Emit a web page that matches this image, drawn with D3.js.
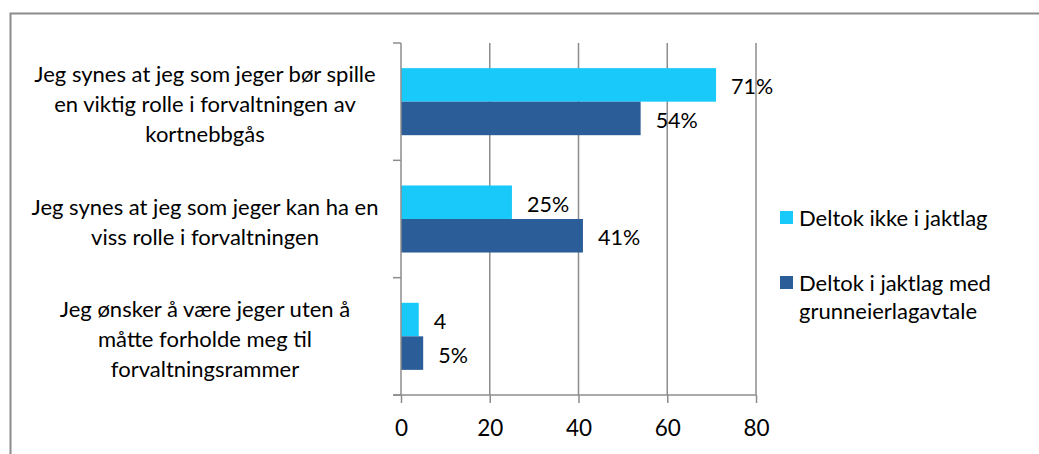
<!DOCTYPE html>
<html>
<head>
<meta charset="utf-8">
<script src="https://cdn.jsdelivr.net/npm/d3@7"></script>
<style>
  body { margin: 0; background: #fff; }
  svg text { font-family: Lato, "Open Sans", sans-serif; fill: #000; }
</style>
</head>
<body>
<svg id="chart"></svg>
<script>
// categories, top to bottom, each split into lines
const categories = [
    ["Jeg synes at jeg som jeger bør spille", "en viktig rolle i forvaltningen av", "kortnebbgås"],
    ["Jeg synes at jeg som jeger kan ha en", "viss rolle i forvaltningen"],
    ["Jeg ønsker å være jeger uten å", "måtte forholde meg til", "forvaltningsrammer"]
];
const seriesNames = ["Deltok ikke i jaktlag", "Deltok i jaktlag med grunneierlagavtale"];
const ikkeJaktlag = [71, 25, 4];
const medAvtale = [54, 41, 5];
const ikkeLabels = ["71%", "25%", "4"];
const medLabels = ["54%", "41%", "5%"];
const xTicks = [0, 20, 40, 60, 80];

const width = 1039, height = 454;
const margin = {top: 43, right: 283, bottom: 59, left: 401};
const innerW = width - margin.left - margin.right;
const innerH = height - margin.top - margin.bottom;

const svg = d3.select('#chart')
    .attr('width', width)
    .attr('height', height);

// outer frame (top and left edges only are visible)
svg.append('path')
    .attr('d', `M10.5,${height}V13.5H${width}`)
    .attr('fill', 'none')
    .attr('stroke', '#8c8c8c')
    .attr('stroke-width', 2);

const chart = svg.append('g')
    .attr('transform', `translate(${margin.left},${margin.top})`);

const xscale = d3.scaleLinear().domain([0, 80]).range([0, innerW]);
const yscale = d3.scaleBand().domain(d3.range(categories.length)).range([0, innerH]);
const inner = d3.scaleBand().domain([0, 1]).range([0, yscale.bandwidth()]).paddingOuter(0.75).paddingInner(0);

// gridlines
chart.selectAll('.grid')
    .data(xTicks.slice(1))
    .enter().append('line')
    .attr('x1', d => xscale(d)).attr('x2', d => xscale(d))
    .attr('y1', 0).attr('y2', innerH)
    .attr('stroke', '#8c8c8c').attr('stroke-width', 1.5);

const series = [
    {values: ikkeJaktlag, labels: ikkeLabels, color: '#19c9f9'},
    {values: medAvtale, labels: medLabels, color: '#2b5d99'}
];

series.forEach((s, si) => {
    chart.selectAll('.bar' + si)
        .data(s.values)
        .enter().append('rect')
        .attr('x', 0)
        .attr('y', (d, i) => yscale(i) + inner(si))
        .attr('width', d => xscale(d))
        .attr('height', inner.bandwidth())
        .attr('fill', s.color);

    chart.selectAll('.lab' + si)
        .data(s.values)
        .enter().append('text')
        .attr('x', d => xscale(d) + 15)
        .attr('y', (d, i) => yscale(i) + inner(si) + inner.bandwidth() / 2 + 2)
        .attr('dy', '0.35em')
        .attr('font-size', '21.5px')
        .text((d, i) => s.labels[i]);
});

// x axis
const xaxis = d3.axisBottom(xscale).tickValues(xTicks).tickSize(8).tickSizeOuter(0).tickPadding(17);
const xg = chart.append('g')
    .attr('transform', `translate(0,${innerH})`)
    .call(xaxis);
xg.select('.domain').remove();
xg.append('line').attr('x1', -8).attr('x2', innerW).attr('stroke', '#8c8c8c').attr('stroke-width', 1.5);
xg.selectAll('.tick line').attr('stroke', '#8c8c8c').attr('stroke-width', 1.5);
xg.selectAll('.tick text').attr('font-size', '22.5px').attr('font-family', 'Lato, sans-serif').attr('fill', '#000');

// y axis
const ytickPos = d3.range(categories.length + 1).map(i => i * yscale.step());
const yg = chart.append('g');
yg.append('line').attr('x1', 0).attr('x2', 0).attr('y1', 0).attr('y2', innerH)
    .attr('stroke', '#8c8c8c').attr('stroke-width', 1.5);
yg.selectAll('.ytick')
    .data(ytickPos)
    .enter().append('line')
    .attr('x1', -8).attr('x2', 0)
    .attr('y1', d => d).attr('y2', d => d)
    .attr('stroke', '#8c8c8c').attr('stroke-width', 1.5);

// category labels
const lineH = 30;
categories.forEach((lines, i) => {
    const cy = yscale(i) + yscale.bandwidth() / 2 + 3;
    const t = chart.append('text')
        .attr('text-anchor', 'middle')
        .attr('font-size', '22px')
        .attr('x', 205 - margin.left)
        .attr('y', cy - (lines.length - 1) * lineH / 2);
    lines.forEach((l, j) => {
        t.append('tspan')
            .attr('x', 205 - margin.left)
            .attr('dy', j === 0 ? '0.35em' : lineH)
            .text(l);
    });
});

// legend
const legend = svg.append('g').attr('transform', 'translate(780,0)');
const legendItems = [
    {lines: ["Deltok ikke i jaktlag"], color: '#19c9f9', y: 218},
    {lines: ["Deltok i jaktlag med", "grunneierlagavtale"], color: '#2b5d99', y: 283}
];
legendItems.forEach(it => {
    legend.append('rect')
        .attr('x', 0).attr('y', it.y - 7)
        .attr('width', 13).attr('height', 13)
        .attr('fill', it.color);
    const t = legend.append('text').attr('font-size', '22px');
    it.lines.forEach((l, j) => {
        t.append('tspan')
            .attr('x', 19)
            .attr('y', it.y + j * 28)
            .attr('dy', '0.35em')
            .text(l);
    });
});
</script>
</body>
</html>
